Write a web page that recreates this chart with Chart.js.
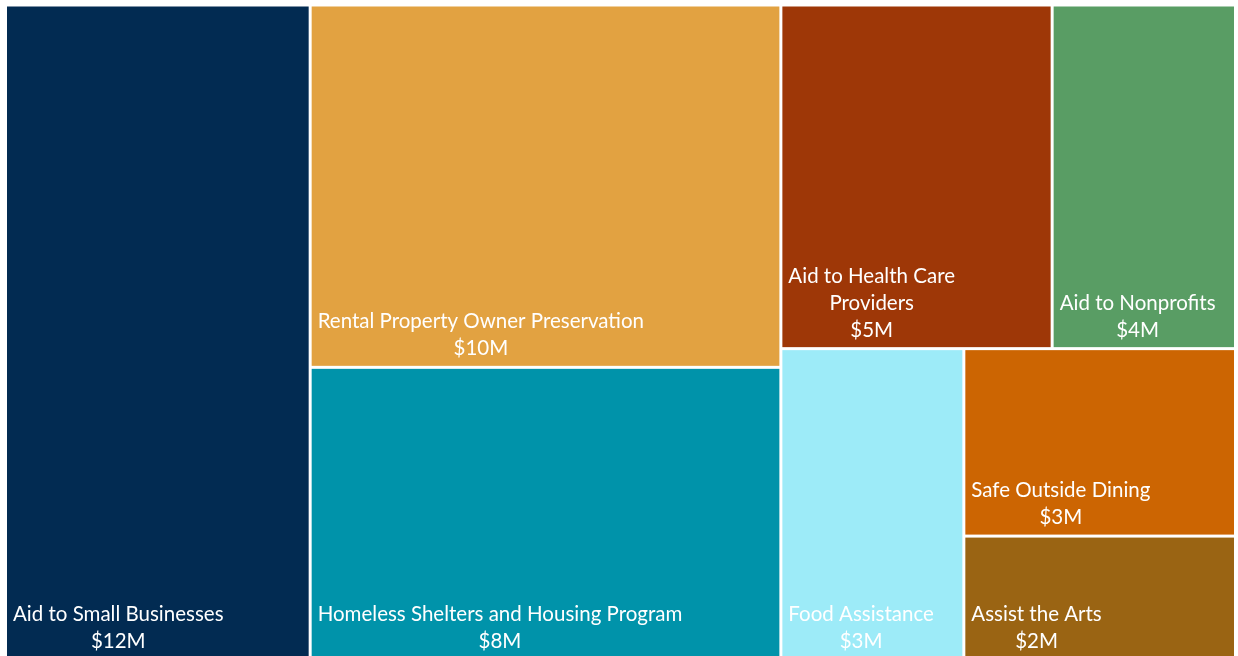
<!DOCTYPE html>
<html>
<head>
<meta charset="utf-8">
<script src="https://cdn.jsdelivr.net/npm/chart.js@4/dist/chart.umd.min.js"></script>
<style>
    html, body { margin: 0; padding: 0; background: #ffffff; overflow: hidden; }
    #wrap { width: 1238px; height: 656px; overflow: hidden; }
</style>
</head>
<body>
<div id="wrap"><canvas id="treemap" width="1238" height="660"></canvas></div>
<script>
const categories = [
    "Aid to Small Businesses",
    "Rental Property Owner Preservation",
    "Homeless Shelters and Housing Program",
    "Aid to Health Care Providers",
    "Aid to Nonprofits",
    "Food Assistance",
    "Safe Outside Dining",
    "Assist the Arts",
];
// funding in $ millions, read from the tile areas
const values = [11.56, 9.88, 7.98, 5.4, 3.65, 3.3, 2.95, 1.95];

const palette = ["#022b52", "#e2a241", "#0093aa", "#9e3707", "#599d64", "#9debf8", "#cc6502", "#9a6413"];

// a row only grows when its worst aspect ratio gets clearly better (Excel-like)
const GROW_GAIN = 1.175;
const GAP = 1.5;
const FONT_SIZE = 20.5;
const LINE_HEIGHT = 27;

function sum(arr) {
    return arr.reduce((a, b) => a + b, 0);
}

// squarified layout in axis units; kx, ky are pixels per unit
function layoutTreemap(vals, box, kx, ky) {
    const cells = [];
    let {x0, y0, x1, y1} = box;
    let rest = sum(vals);
    let i = 0;
    while (i < vals.length) {
        const w = (x1 - x0) * kx, h = (y1 - y0) * ky;
        const side = Math.min(w, h);
        const pxPerValue = (w * h) / rest;
        const worst = (row) => {
            const s = sum(row);
            const thick = s * pxPerValue / side;
            return Math.max(...row.map(v => {
                const len = v / s * side;
                return Math.max(thick / len, len / thick);
            }));
        };
        let row = [vals[i]];
        let j = i + 1;
        while (j < vals.length) {
            const next = row.concat(vals[j]);
            if (worst(next) * GROW_GAIN > worst(row)) break;
            row = next;
            j++;
        }
        const s = sum(row);
        const frac = s / rest;
        if (h <= w) {
            const xe = x0 + (x1 - x0) * frac;
            let yy = y0;
            row.forEach((v, k) => {
                const ye = yy + (y1 - y0) * v / s;
                cells.push({index: i + k, x0: x0, x1: xe, y0: yy, y1: ye});
                yy = ye;
            });
            x0 = xe;
        } else {
            const ye = y0 + (y1 - y0) * frac;
            let xx = x0;
            row.forEach((v, k) => {
                const xe = xx + (x1 - x0) * v / s;
                cells.push({index: i + k, x0: xx, x1: xe, y0: y0, y1: ye});
                xx = xe;
            });
            y0 = ye;
        }
        rest -= s;
        i = j;
    }
    return cells;
}

function wrapText(ctx, text, maxWidth) {
    const words = text.split(" ");
    const lines = [];
    let line = "";
    words.forEach(word => {
        const test = line ? line + " " + word : word;
        if (line && ctx.measureText(test).width > maxWidth) {
            lines.push(line);
            line = word;
        } else {
            line = test;
        }
    });
    if (line) lines.push(line);
    return lines;
}

const treemapPlugin = {
    id: "treemap",
    afterDatasetsDraw(chart) {
        const ctx = chart.ctx;
        const xScale = chart.scales.x;
        const yScale = chart.scales.y;
        const kx = (xScale.right - xScale.left) / (xScale.max - xScale.min);
        const ky = (yScale.bottom - yScale.top) / (yScale.max - yScale.min);
        const cells = layoutTreemap(values, {x0: xScale.min, y0: yScale.min, x1: xScale.max, y1: yScale.max}, kx, ky);

        ctx.save();
        cells.forEach(cell => {
            const left = xScale.getPixelForValue(cell.x0) + GAP;
            const right = xScale.getPixelForValue(cell.x1) - GAP;
            const top = yScale.getPixelForValue(cell.y0) + GAP;
            const bottom = yScale.getPixelForValue(cell.y1) - GAP;
            ctx.fillStyle = palette[cell.index];
            ctx.fillRect(left, top, right - left, bottom - top);

            ctx.font = FONT_SIZE + "px Lato, 'DejaVu Sans', sans-serif";
            ctx.fillStyle = "#ffffff";
            ctx.textAlign = "center";
            ctx.textBaseline = "middle";
            const lines = wrapText(ctx, categories[cell.index], right - left - 16);
            lines.push("$" + Math.round(values[cell.index]) + "M");
            const blockWidth = Math.max(...lines.map(l => ctx.measureText(l).width));
            const centerX = left + 6 + blockWidth / 2;
            const lastY = bottom - 17;
            lines.forEach((l, k) => {
                ctx.fillText(l, centerX, lastY - (lines.length - 1 - k) * LINE_HEIGHT);
            });
        });
        ctx.restore();
    },
};

new Chart(document.getElementById("treemap"), {
    type: "scatter",
    data: {
        labels: categories,
        datasets: [{label: "Funding ($M)", data: []}],
    },
    options: {
        responsive: false,
        animation: false,
        layout: {
            padding: {left: 5.5, top: 5, right: 2.5, bottom: 0},
        },
        scales: {
            x: {type: "linear", min: 0, max: 100, display: false},
            y: {type: "linear", min: 0, max: 100, reverse: true, display: false},
        },
        plugins: {
            legend: {display: false},
            tooltip: {enabled: false},
        },
    },
    plugins: [treemapPlugin],
});
</script>
</body>
</html>
